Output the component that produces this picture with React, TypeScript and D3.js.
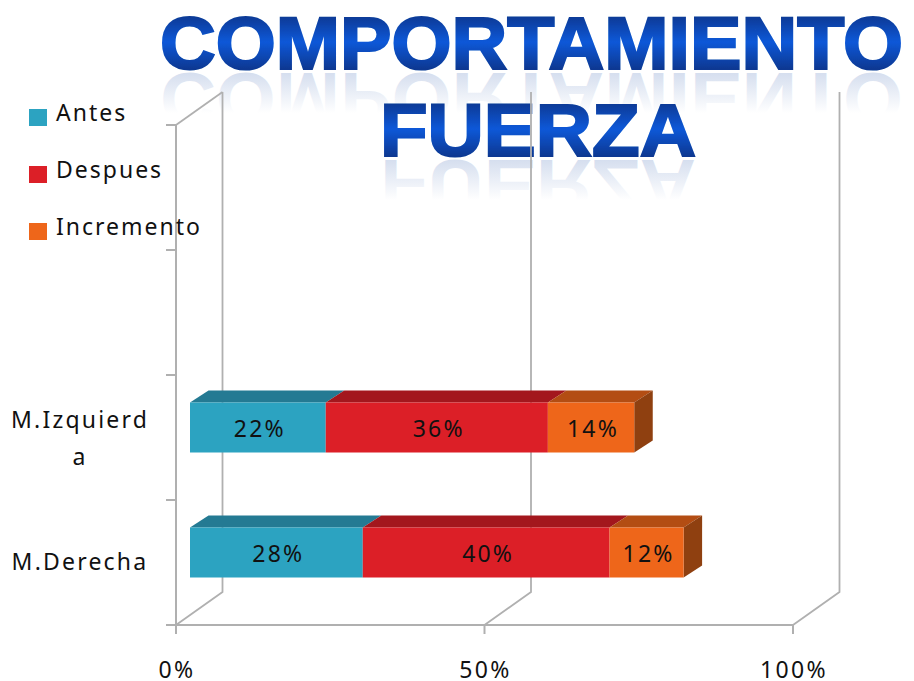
import React from "react";
import * as d3 from "d3";

const categories = ["M.Derecha", "M.Izquierda", "", ""];
const categoryLines = [["M.Derecha"], ["M.Izquierd", "a"], [], []];
const seriesNames = ["Antes", "Despues", "Incremento"];
const antes = [28, 22, 0, 0];
const despues = [40, 36, 0, 0];
const incremento = [12, 14, 0, 0];
const seriesValues = [antes, despues, incremento];
const frontColors = ["#2ca3c1", "#dc1f27", "#ee661a"];
const topColors = ["#247a93", "#a3171d", "#b34d13"];
const sideColor = "#8f4010";
const xTicks = [0, 50, 100];
const titleLines = ["COMPORTAMIENTO", "FUERZA"];

const W = 914;
const H = 681;
const FONT = "'Noto Sans', 'Open Sans', sans-serif";
const depthX = 46.5;
const depthY = 33;
const barDX = 18.5;
const barDY = 12;

const x = d3.scaleLinear().domain([0, 100]).range([176, 793]);
const y = d3.scaleBand<string>().domain(categories.map((c, i) => c || `_${i}`)).range([625, 125]);
const catKeys = y.domain();
const barH = 50;
const barOffset = 14;

const stack = d3
  .stack<number>()
  .keys(["0", "1", "2"])
  .value((i, k) => seriesValues[+k][i]);
const stacked = stack([0, 1, 2, 3]);

const line = d3.line();
const poly = (pts: [number, number][]) => line(pts) + "Z";

const axisGrey = "#b0b0b0";

const titleSpecs = [
  { text: titleLines[0], x0: 160, x1: 903, top: 15, base: 69, id: "a" },
  { text: titleLines[1], x0: 380, x1: 696, top: 102, base: 156, id: "b" },
];

export default function App() {
  const floorY = y.range()[0];
  const topY = y.range()[1];
  return (
    <svg
      width={W}
      height={H}
      viewBox={`0 0 ${W} ${H}`}
      style={{ position: "absolute", left: 0, top: 0, display: "block", background: "#fff" }}
    >
      <defs>
        {titleSpecs.map((t) => (
          <React.Fragment key={t.id}>
            <linearGradient id={`grad-${t.id}`} gradientUnits="userSpaceOnUse" x1="0" x2="0" y1={t.top} y2={t.base}>
              <stop offset="0" stopColor="#083892" />
              <stop offset="0.5" stopColor="#0858d8" />
              <stop offset="1" stopColor="#083892" />
            </linearGradient>
            <linearGradient id={`refl-${t.id}`} gradientUnits="userSpaceOnUse" x1="0" x2="0" y1={t.base} y2={t.base - 40}>
              <stop offset="0" stopColor="#0a3fa0" stopOpacity="0.17" />
              <stop offset="1" stopColor="#0a3fa0" stopOpacity="0" />
            </linearGradient>
          </React.Fragment>
        ))}
        <filter id="soft" x="-5%" y="-5%" width="110%" height="110%">
          <feGaussianBlur stdDeviation="0.5" />
        </filter>
      </defs>

      {/* reflections */}
      {titleSpecs.map((t) => (
        <text
          key={t.id}
          transform={`translate(0 ${2 * t.base + 4}) scale(1 -1)`}
          x={t.x0}
          y={t.base}
          textLength={t.x1 - t.x0}
          lengthAdjust="spacingAndGlyphs"
          fontFamily="'Liberation Sans', Arial, sans-serif"
          fontWeight={700}
          fontSize={75}
          fill={`url(#refl-${t.id})`}
        >
          {t.text}
        </text>
      ))}

      {/* title */}
      {titleSpecs.map((t) => (
        <text
          key={t.id}
          x={t.x0}
          y={t.base}
          textLength={t.x1 - t.x0}
          lengthAdjust="spacingAndGlyphs"
          fontFamily="'Liberation Sans', Arial, sans-serif"
          fontWeight={700}
          fontSize={74}
          fill={`url(#grad-${t.id})`}
          stroke={`url(#grad-${t.id})`}
          strokeWidth={2.2}
          filter="url(#soft)"
        >
          {t.text}
        </text>
      ))}

      {/* walls and grid */}
      <g fill="none" stroke={axisGrey} strokeWidth={1.8}>
        {xTicks.map((t) => (
          <path
            key={t}
            d={
              line([
                [x(t), floorY],
                [x(t) + depthX, floorY - depthY],
                [x(t) + depthX, topY - depthY],
              ]) ?? ""
            }
          />
        ))}
        <path d={line([[x(0), topY], [x(0) + depthX, topY - depthY]]) ?? ""} />
      </g>
      <g fill="none" stroke={axisGrey} strokeWidth={2}>
        <path d={line([[x(0), topY], [x(0), floorY], [x(100), floorY]]) ?? ""} />
        {xTicks.map((t) => (
          <path key={t} d={line([[x(t), floorY], [x(t), floorY + 9]]) ?? ""} />
        ))}
        {d3.range(5).map((i) => {
          const yy = floorY - i * y.bandwidth();
          return <path key={i} d={line([[x(0) - 10, yy], [x(0), yy]]) ?? ""} />;
        })}
      </g>

      {/* bars */}
      {catKeys.map((key, ci) => {
        if (!categories[ci]) return null;
        const yTop = (y(key) as number) + y.bandwidth() / 2 - 10 - barH / 2;
        const yBot = yTop + barH;
        const end = x(stacked[2][ci][1]) + barOffset;
        return (
          <g key={key}>
            {stacked.map((layer, si) => {
              const x0 = x(layer[ci][0]) + barOffset;
              const x1 = x(layer[ci][1]) + barOffset;
              return (
                <path
                  key={si}
                  d={poly([
                    [x0, yTop],
                    [x0 + barDX, yTop - barDY],
                    [x1 + barDX, yTop - barDY],
                    [x1, yTop],
                  ])}
                  fill={topColors[si]}
                />
              );
            })}
            <path
              d={poly([
                [end, yTop],
                [end + barDX, yTop - barDY],
                [end + barDX, yBot - barDY],
                [end, yBot],
              ])}
              fill={sideColor}
            />
            {stacked.map((layer, si) => {
              const x0 = x(layer[ci][0]) + barOffset;
              const x1 = x(layer[ci][1]) + barOffset;
              return (
                <g key={si}>
                  <rect x={x0} y={yTop} width={x1 - x0} height={barH} fill={frontColors[si]} />
                  <text
                    x={(x0 + x1) / 2 + 2}
                    y={yTop + 34}
                    textAnchor="middle"
                    fontFamily={FONT}
                    fontSize={23}
                    letterSpacing={2.2}
                    fill="#111"
                  >
                    {seriesValues[si][ci]}%
                  </text>
                </g>
              );
            })}
          </g>
        );
      })}

      {/* category labels */}
      {catKeys.map((key, ci) => {
        const lines = categoryLines[ci];
        const cy = (y(key) as number) + y.bandwidth() / 2;
        const startY = lines.length > 1 ? cy - 10 : cy + 7;
        return lines.map((l, li) => (
          <text
            key={l}
            x={80}
            y={startY + li * 37}
            textAnchor="middle"
            fontFamily={FONT}
            fontSize={23}
            letterSpacing={2.2}
            fill="#111"
          >
            {l}
          </text>
        ));
      })}

      {/* x tick labels */}
      {xTicks.map((t) => (
        <text
          key={t}
          x={x(t) + 1}
          y={678}
          textAnchor="middle"
          fontFamily={FONT}
          fontSize={23}
          letterSpacing={2.4}
          fill="#111"
        >
          {t}%
        </text>
      ))}

      {/* legend */}
      {seriesNames.map((s, i) => (
        <g key={s}>
          <rect x={29} y={109 + i * 57} width={18} height={17} fill={frontColors[i]} />
          <text x={56} y={121 + i * 57} fontFamily={FONT} fontSize={23} letterSpacing={2} fill="#111">
            {s}
          </text>
        </g>
      ))}
    </svg>
  );
}
